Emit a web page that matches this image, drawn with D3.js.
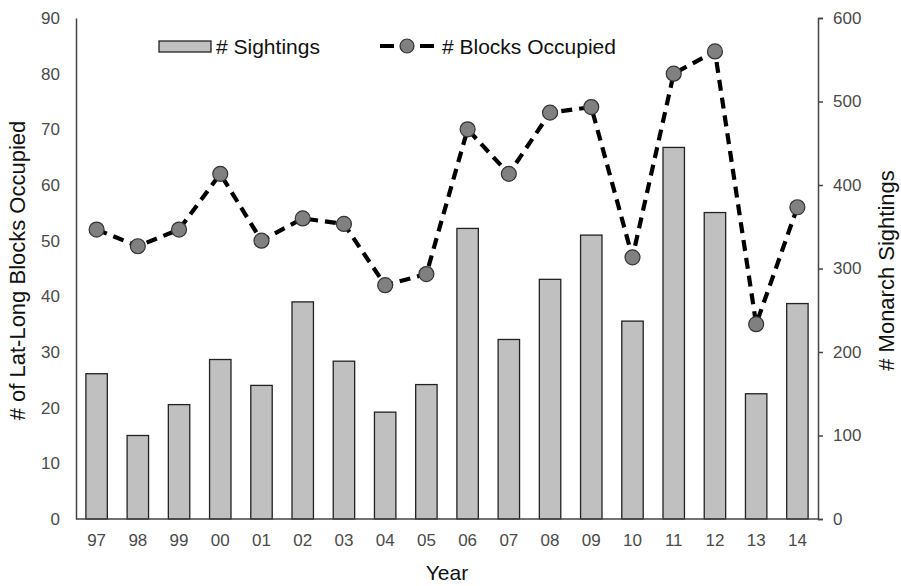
<!DOCTYPE html>
<html>
<head>
<meta charset="utf-8">
<script src="https://cdn.jsdelivr.net/npm/d3@7/dist/d3.min.js"></script>
<style>
  html, body { margin: 0; padding: 0; background: #fff; }
  svg { display: block; font-family: "Liberation Sans", Arial, sans-serif; }
</style>
</head>
<body>
<svg id="chart" width="901" height="586"></svg>
<script>
const years = ["97","98","99","00","01","02","03","04","05","06","07","08","09","10","11","12","13","14"];
const sightings = [174,100,137,191,160,260,189,128,161,348,215,287,340,237,445,367,150,258];
const blocksOccupied = [52,49,52,62,50,54,53,42,44,70,62,73,74,47,80,84,35,56];
const leftTicks = [0,10,20,30,40,50,60,70,80,90];
const rightTicks = [0,100,200,300,400,500,600];

const svg = d3.select("#chart");
const m = { left: 76, right: 818, top: 18, bottom: 519 };

const x = d3.scaleBand().domain(years).range([m.left, m.right]).paddingInner(0.48).paddingOuter(0.24);
const yL = d3.scaleLinear().domain([0, 90]).range([m.bottom, m.top]);
const yR = d3.scaleLinear().domain([0, 600]).range([m.bottom, m.top]);

// bars
svg.append("g").selectAll("rect").data(years).join("rect")
  .attr("x", d => x(d))
  .attr("width", x.bandwidth())
  .attr("y", (d, i) => yR(sightings[i]))
  .attr("height", (d, i) => yR(0) - yR(sightings[i]))
  .attr("fill", "#c0c0c0")
  .attr("stroke", "#222")
  .attr("stroke-width", 1.3);

// axes
const axL = svg.append("g").attr("transform", `translate(${m.left},0)`)
  .call(d3.axisLeft(yL).tickValues(leftTicks).tickSize(0).tickPadding(16));
const axR = svg.append("g").attr("transform", `translate(${m.right},0)`)
  .call(d3.axisRight(yR).tickValues(rightTicks).tickSize(5).tickPadding(10));
const axB = svg.append("g").attr("transform", `translate(0,${m.bottom})`)
  .call(d3.axisBottom(x).tickSize(0).tickPadding(15));

[axL, axR, axB].forEach(a => {
  a.select(".domain").attr("stroke", "#444").attr("stroke-width", 1.5);
  a.selectAll(".tick line").attr("stroke", "#444").attr("stroke-width", 1.5);
  a.selectAll(".tick text").attr("fill", "#4a4a4a").style("font-size", "17px")
    .style("font-family", "'Liberation Sans', Arial, sans-serif");
});
axB.select(".domain").attr("d", `M${m.left},0H${m.right}`);

// line
const cx = (d, i) => x(years[i]) + x.bandwidth() / 2;
const line = d3.line().x((d, i) => cx(d, i)).y(d => yL(d));
svg.append("path").datum(blocksOccupied)
  .attr("d", line)
  .attr("fill", "none")
  .attr("stroke", "#000")
  .attr("stroke-width", 4.2)
  .attr("stroke-dasharray", "11,7");

svg.append("g").selectAll("circle").data(blocksOccupied).join("circle")
  .attr("cx", cx)
  .attr("cy", d => yL(d))
  .attr("r", 7.5)
  .attr("fill", "#808080")
  .attr("stroke", "#333")
  .attr("stroke-width", 1.2);

// axis titles
svg.append("text")
  .attr("transform", `translate(25,${(m.top + m.bottom) / 2 + 2}) rotate(-90)`)
  .attr("text-anchor", "middle")
  .style("font-size", "22px").attr("fill", "#111")
  .text("# of Lat-Long Blocks Occupied");
svg.append("text")
  .attr("transform", `translate(894,${(m.top + m.bottom) / 2 + 2}) rotate(-90)`)
  .attr("text-anchor", "middle")
  .style("font-size", "22px").attr("fill", "#111")
  .text("# Monarch Sightings");
svg.append("text")
  .attr("x", 447).attr("y", 580)
  .attr("text-anchor", "middle")
  .style("font-size", "21px").attr("fill", "#111")
  .text("Year");

// legend
const lg = svg.append("g");
lg.append("rect").attr("x", 159).attr("y", 41).attr("width", 52).attr("height", 11)
  .attr("fill", "#c0c0c0").attr("stroke", "#222").attr("stroke-width", 1.3);
lg.append("text").attr("x", 216).attr("y", 54).style("font-size", "21px").attr("fill", "#111").text("# Sightings");
lg.append("line").attr("x1", 380).attr("x2", 434).attr("y1", 46).attr("y2", 46)
  .attr("stroke", "#000").attr("stroke-width", 4.2).attr("stroke-dasharray", "14,6");
lg.append("circle").attr("cx", 407).attr("cy", 46).attr("r", 7)
  .attr("fill", "#808080").attr("stroke", "#333").attr("stroke-width", 1.2);
lg.append("text").attr("x", 442).attr("y", 54).style("font-size", "21px").attr("fill", "#111").text("# Blocks Occupied");
</script>
</body>
</html>
